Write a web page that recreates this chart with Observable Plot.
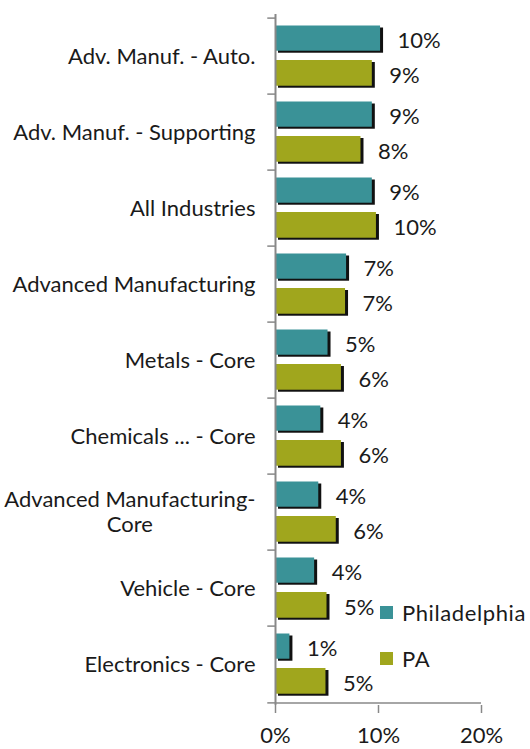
<!DOCTYPE html>
<html>
<head>
<meta charset="utf-8">
<script src="https://cdn.jsdelivr.net/npm/d3@7"></script>
<script src="https://cdn.jsdelivr.net/npm/@observablehq/plot@0.6"></script>
<style>
  body { margin: 0; background: #fff; }
  #wrap { position: relative; width: 530px; height: 749px; font-family: Lato, sans-serif; color: #1a1a1a; }
  .lg { position: absolute; left: 380px; display: flex; align-items: center; font-size: 22px; letter-spacing: 0.6px; white-space: nowrap; }
  .sw { width: 13px; height: 13px; margin-right: 9px; }
</style>
</head>
<body>
<div id="wrap"></div>
<script>
const categories = ["Adv. Manuf. - Auto.", "Adv. Manuf. - Supporting", "All Industries", "Advanced Manufacturing", "Metals - Core", "Chemicals ... - Core", "Advanced Manufacturing-\nCore", "Vehicle - Core", "Electronics - Core"];
const seriesNames = ["Philadelphia", "PA"];
const philadelphia = [10.2, 9.4, 9.4, 6.9, 5.1, 4.4, 4.2, 3.8, 1.4];
const pa = [9.4, 8.3, 9.8, 6.8, 6.4, 6.4, 5.9, 5.0, 4.9];
const xTicks = [0, 10, 20];
const colors = ["#3a9297", "#a0a61d"];

const rowsPhila = categories.map((c, i) => ({category: c, value: philadelphia[i], series: seriesNames[0]}));
const rowsPA = categories.map((c, i) => ({category: c, value: pa[i], series: seriesNames[1]}));

const W = 530, H = 749, mT = 14, mB = 44, mL = 275, mR = 49;
const step = (H - mT - mB) / categories.length;
const half = step / 2;
const insP = {insetTop: 7.5, insetBottom: step - 33.5};
const insA = {insetTop: 42, insetBottom: step - 68.5};
const axisColor = "#888888";

const chart = Plot.plot({
  width: W, height: H,
  marginTop: mT, marginBottom: mB, marginLeft: mL, marginRight: mR,
  style: {fontFamily: "Lato, sans-serif", fontSize: "22px", color: "#1a1a1a", background: "transparent", overflow: "visible"},
  x: {domain: [0, 20], axis: null},
  y: {domain: categories, padding: 0, axis: null},
  marks: [
    // shadows
    Plot.barX(rowsPhila, {x: "value", y: "category", fill: "#111", dx: 3, dy: 2, ...insP}),
    Plot.barX(rowsPA, {x: "value", y: "category", fill: "#111", dx: 3, dy: 2, ...insA}),
    // bars
    Plot.barX(rowsPhila, {x: "value", y: "category", fill: colors[0], ...insP}),
    Plot.barX(rowsPA, {x: "value", y: "category", fill: colors[1], ...insA}),
    // value labels
    Plot.text(rowsPhila, {x: "value", y: "category", text: d => Math.round(d.value) + "%", textAnchor: "start", dx: 17, dy: -15.5, fontSize: 22, fill: "#1a1a1a"}),
    Plot.text(rowsPA, {x: "value", y: "category", text: d => Math.round(d.value) + "%", textAnchor: "start", dx: 17, dy: 19, fontSize: 22, fill: "#1a1a1a"}),
    // vertical axis line
    Plot.ruleX([0], {stroke: axisColor, strokeWidth: 2}),
    // category boundary ticks
    Plot.ruleY(categories, {y: d => d, x1: -0.75, x2: 0, dy: -half, stroke: axisColor, strokeWidth: 1.5}),
    Plot.ruleY(categories.slice(-1), {y: d => d, x1: -0.75, x2: 0, dy: half, stroke: axisColor, strokeWidth: 1.5}),
    // bottom axis line
    Plot.ruleY(categories.slice(-1), {y: d => d, x1: 0, x2: 20, dy: half, stroke: axisColor, strokeWidth: 1.5}),
    Plot.axisX({ticks: xTicks, tickFormat: d => d + "%", tickSize: 8, tickPadding: 14, stroke: axisColor, strokeWidth: 1.5, fontSize: 22, fill: "#1a1a1a", label: null}),
    Plot.axisY({tickSize: 0, tickPadding: 20, fontSize: 22, fill: "#1a1a1a", label: null})
  ]
});

const wrap = document.getElementById("wrap");
wrap.appendChild(chart);

// center-align multi-line category labels, with a bit more line spacing
const lh = 1.12;
chart.querySelectorAll('g[aria-label="y-axis tick label"] text').forEach(t => {
  const ts = t.querySelectorAll("tspan");
  if (ts.length > 1) {
    const w = t.getBBox().width;
    t.setAttribute("text-anchor", "middle");
    ts.forEach((s, i) => {
      s.setAttribute("x", -w / 2);
      s.setAttribute("y", null);
      s.removeAttribute("y");
      s.setAttribute("dy", i === 0 ? `${(0.32 - (ts.length - 1) / 2 * lh).toFixed(3)}em` : `${lh}em`);
    });
  }
});

// legend
const legendTops = [599, 645];
seriesNames.forEach((name, i) => {
  const d = document.createElement("div");
  d.className = "lg";
  d.style.top = legendTops[i] + "px";
  d.innerHTML = `<div class="sw" style="background:${colors[i]}"></div><span>${name}</span>`;
  wrap.appendChild(d);
});
</script>
</body>
</html>
